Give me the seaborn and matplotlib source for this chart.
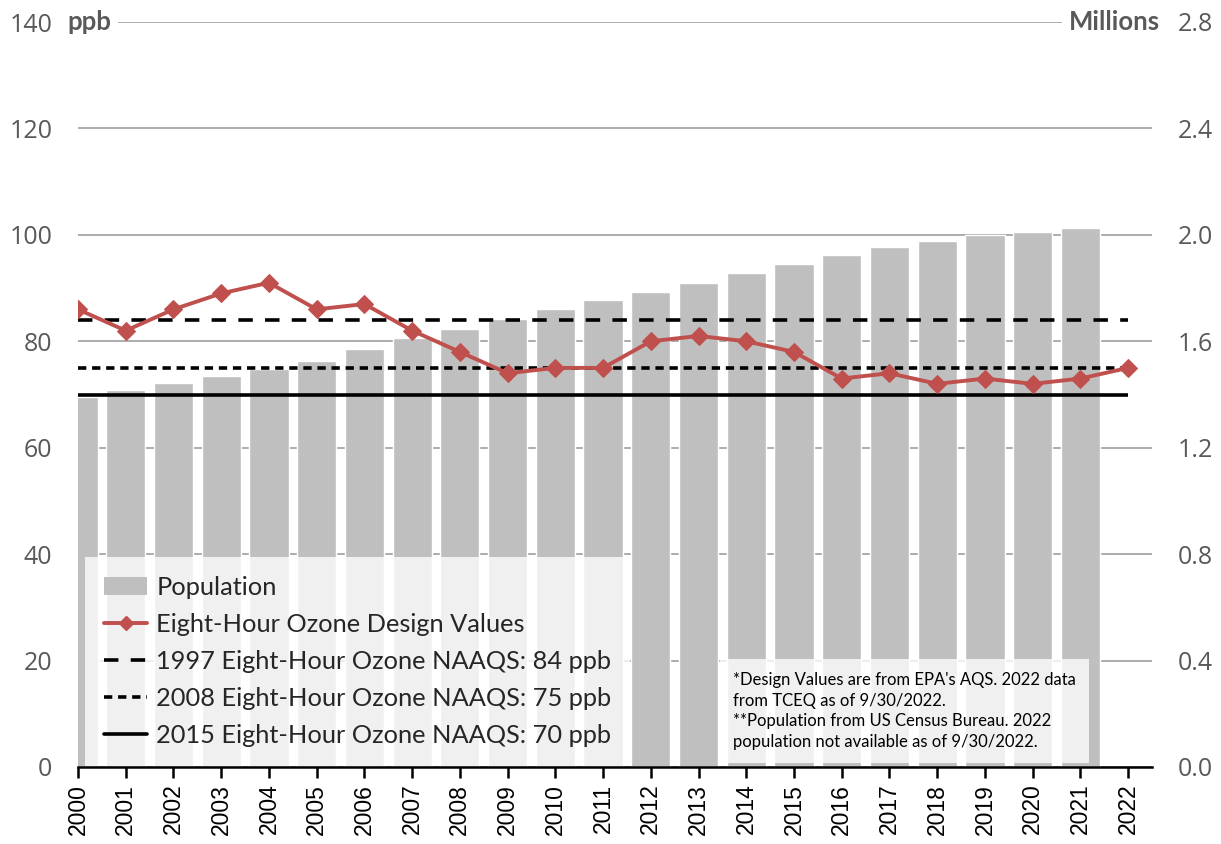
import numpy as np
import pandas as pd
import seaborn as sns
import matplotlib.pyplot as plt
from matplotlib.lines import Line2D
from matplotlib.patches import Patch

# data
years = list(range(2000, 2023))
pop_years = list(range(2000, 2022))
population = [1.392, 1.418, 1.444, 1.468, 1.496, 1.527, 1.572, 1.614, 1.648,
              1.684, 1.722, 1.754, 1.786, 1.818, 1.858, 1.892, 1.924, 1.954,
              1.978, 2.000, 2.012, 2.026]  # millions
ozone = [86, 82, 86, 89, 91, 86, 87, 82, 78, 74, 75, 75, 80, 81, 80, 78, 73,
         74, 72, 73, 72, 73, 75]  # ppb
naaqs_labels = ['1997 Eight-Hour Ozone NAAQS: 84 ppb',
                '2008 Eight-Hour Ozone NAAQS: 75 ppb',
                '2015 Eight-Hour Ozone NAAQS: 70 ppb']
naaqs_values = [84, 75, 70]
left_ticks = list(range(0, 141, 20))
right_ticks = [0.0, 0.4, 0.8, 1.2, 1.6, 2.0, 2.4, 2.8]
note = ("*Design Values are from EPA's AQS. 2022 data\n"
        "from TCEQ as of 9/30/2022.\n"
        "**Population from US Census Bureau. 2022\n"
        "population not available as of 9/30/2022.")

sns.set_style('white')
plt.rcParams['font.family'] = ['Lato', 'DejaVu Sans']

fig = plt.figure(figsize=(12.21, 8.44), dpi=100)
ax = fig.add_axes([78 / 1221, 77 / 844, (1152 - 78) / 1221, (767 - 22) / 844])
ax2 = ax.twinx()
ax.set_zorder(ax2.get_zorder() + 1)
ax.patch.set_visible(False)

bar_color = '#bfbfbf'
red = '#c0504d'
grey_txt = '#595959'
line_styles = [(0, (4, 3.4)), (0, (2.3, 1.6)), '-']

# population bars on the right axis
pop_df = pd.DataFrame({'year': pop_years, 'pop': population})
sns.barplot(data=pop_df, x='year', y='pop', native_scale=True, width=0.82,
            color=bar_color, saturation=1, ax=ax2, zorder=2)

# design values line on the left axis
oz_df = pd.DataFrame({'year': years, 'ozone': ozone})
sns.lineplot(data=oz_df, x='year', y='ozone', ax=ax, color=red, lw=2.8,
             marker='D', markersize=9, markeredgecolor=red, zorder=5)

for val, ls in zip(naaqs_values, line_styles):
    ax.hlines(val, years[0], years[-1], color='black', lw=2.6, zorder=4,
              linestyles=[ls])

ax.set_xlim(2000, 2022.5)
ax.set_ylim(0, 140)
ax2.set_ylim(0, 2.8)
ax.set_yticks(left_ticks)
ax.set_yticklabels([str(v) for v in left_ticks], fontfamily='Open Sans',
                   fontsize=18, color=grey_txt)
ax2.set_yticks(right_ticks)
ax2.set_yticklabels([f'{v:.1f}' for v in right_ticks], fontfamily='Open Sans',
                    fontsize=18, color=grey_txt)
ax.set_xticks(years)
ax.set_xticklabels([str(y) for y in years], rotation=90,
                   fontfamily='Liberation Sans', fontsize=16.5)
ax2.set_xlabel('')
ax2.set_ylabel('')
ax.set_xlabel('')
ax.set_ylabel('')

# grid lives on the back axes so bars cover it
ax2.set_axisbelow(True)
ax2.grid(axis='y', color='#a6a6a6', lw=1.3)
ax2.grid(axis='x', color='#cfcfcf', lw=1, linestyle=':')
ax2.set_xticks(years)
ax.grid(False)

for a in (ax, ax2):
    for s in ('left', 'right', 'top'):
        a.spines[s].set_visible(False)
ax2.spines['bottom'].set_visible(False)
ax.spines['bottom'].set_color('black')
ax.spines['bottom'].set_linewidth(1.8)
ax.tick_params(axis='x', bottom=True, length=8, width=1.8, color='black',
               labelcolor='black', pad=4)
ax2.tick_params(axis='x', bottom=False, labelbottom=False)
ax.tick_params(axis='y', left=False, length=0, pad=18.5)
ax2.tick_params(axis='y', right=False, length=0, pad=18.5)

# axis unit labels
ax.text(2000 - 0.22, 140, 'ppb', ha='left', va='center', fontsize=18.5,
        fontweight='bold', color=grey_txt, zorder=10,
        bbox=dict(facecolor='white', edgecolor='none', pad=5))
ax.text(2022.66, 140, 'Millions', ha='right', va='center', fontsize=18.5,
        fontweight='bold', color=grey_txt, zorder=10,
        bbox=dict(facecolor='white', edgecolor='none', pad=5))

# legend
handles = [Patch(facecolor=bar_color, edgecolor='none'),
           Line2D([], [], color=red, lw=2.8, marker='D', markersize=7),
           Line2D([], [], color='black', lw=2.6, linestyle=line_styles[0]),
           Line2D([], [], color='black', lw=2.6, linestyle=line_styles[1]),
           Line2D([], [], color='black', lw=2.6)]
labels = ['Population', 'Eight-Hour Ozone Design Values'] + naaqs_labels
leg = ax.legend(handles, labels, loc='lower left',
                bbox_to_anchor=(85 / 1221, 78 / 844),
                bbox_transform=fig.transFigure, fontsize=18.3,
                frameon=True, fancybox=False, handlelength=1.7,
                handletextpad=0.35, labelspacing=0.55, borderpad=0.75,
                borderaxespad=0)
leg.get_frame().set_facecolor('white')
leg.get_frame().set_alpha(0.78)
leg.get_frame().set_edgecolor('none')
leg.set_zorder(20)

# source note
fig.text(733 / 1221, (844 - 750) / 844, note, ha='left', va='bottom',
         fontsize=12, linespacing=1.35, color='black', zorder=20,
         bbox=dict(facecolor='white', alpha=0.78, edgecolor='none',
                   boxstyle='square,pad=0.8'))

fig.savefig('out.png', dpi=100)
